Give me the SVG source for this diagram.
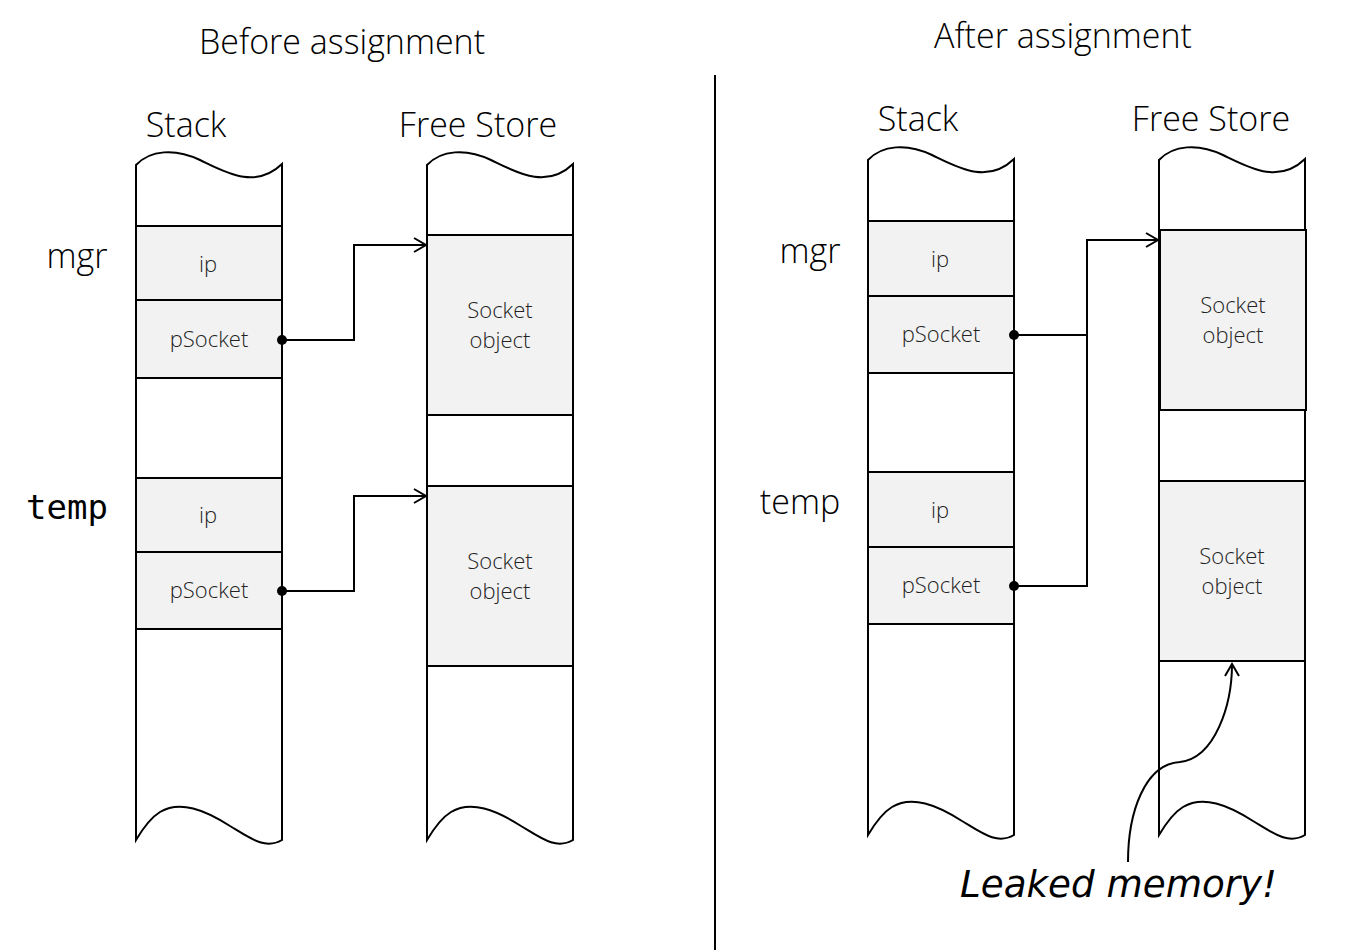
<svg xmlns="http://www.w3.org/2000/svg" width="1353" height="950" viewBox="0 0 1353 950">
<style>
.col{fill:#fff;stroke:#000;stroke-width:2}
.cell{fill:#f2f2f2;stroke:#000;stroke-width:2}
.t{font-family:"Open Sans","Noto Sans",sans-serif;font-weight:300;fill:#000;text-anchor:middle}
.h{font-size:34px}
.c{font-size:22px;fill:#222}
.lbl{font-size:34px}
.con{fill:none;stroke:#000;stroke-width:2}
</style>
<defs>
<marker id="arr" markerWidth="16" markerHeight="16" refX="14" refY="8" orient="auto" markerUnits="userSpaceOnUse">
<path d="M2,1 L14,8 L2,15" fill="none" stroke="#000" stroke-width="2"/>
</marker>
</defs>
<rect width="1353" height="950" fill="#fff"/>
<text class="t h" x="342" y="54">Before assignment</text>
<text class="t h" x="1063" y="48">After assignment</text>
<line x1="715" y1="75" x2="715" y2="950" stroke="#000" stroke-width="2"/>

<g id="left-stack">
<text class="t h" x="186" y="137">Stack</text>
<path class="col" d="M136,165 C150,150 175,148 200,160 C225,172 255,190 282,164 L282,840 C265,850 250,838 230,826 C205,810 180,800 160,812 C150,818 142,830 136,840 Z"/>
<rect class="cell" x="136" y="226" width="146" height="74"/>
<rect class="cell" x="136" y="300" width="146" height="78"/>
<rect class="cell" x="136" y="478" width="146" height="74"/>
<rect class="cell" x="136" y="552" width="146" height="77"/>
<text class="t c" x="208" y="272">ip</text>
<text class="t c" x="209" y="347">pSocket</text>
<text class="t c" x="208" y="523">ip</text>
<text class="t c" x="209" y="598">pSocket</text>
<text class="t lbl" x="77" y="268">mgr</text>
<text x="67" y="519" style="font-family:'DejaVu Sans Mono','Liberation Mono',monospace;font-size:34px;text-anchor:middle">temp</text>
</g>

<g id="left-freestore">
<text class="t h" x="478" y="137">Free Store</text>
<path class="col" d="M427,165 C441,150 466,148 491,160 C516,172 546,190 573,164 L573,840 C556,850 541,838 521,826 C496,810 471,800 451,812 C441,818 433,830 427,840 Z"/>
<rect class="cell" x="427" y="235" width="146" height="180"/>
<rect class="cell" x="427" y="486" width="146" height="180"/>
<text class="t c" x="500" y="318">Socket</text>
<text class="t c" x="500" y="348">object</text>
<text class="t c" x="500" y="569">Socket</text>
<text class="t c" x="500" y="599">object</text>
</g>

<g id="right-stack">
<text class="t h" x="918" y="131">Stack</text>
<path class="col" d="M868,160 C882,145 907,143 932,155 C957,167 987,185 1014,159 L1014,835 C997,845 982,833 962,821 C937,805 912,795 892,807 C882,813 874,825 868,835 Z"/>
<rect class="cell" x="868" y="221" width="146" height="75"/>
<rect class="cell" x="868" y="296" width="146" height="77"/>
<rect class="cell" x="868" y="472" width="146" height="75"/>
<rect class="cell" x="868" y="547" width="146" height="77"/>
<text class="t c" x="940" y="267">ip</text>
<text class="t c" x="941" y="342">pSocket</text>
<text class="t c" x="940" y="518">ip</text>
<text class="t c" x="941" y="593">pSocket</text>
<text class="t lbl" x="810" y="263">mgr</text>
<text class="t lbl" x="800" y="514">temp</text>
</g>

<g id="right-freestore">
<text class="t h" x="1211" y="131">Free Store</text>
<path class="col" d="M1159,160 C1173,145 1198,143 1223,155 C1248,167 1278,185 1305,159 L1305,835 C1288,845 1273,833 1253,821 C1228,805 1203,795 1183,807 C1173,813 1165,825 1159,835 Z"/>
<rect class="cell" x="1160" y="230" width="146" height="180"/>
<rect class="cell" x="1159" y="481" width="146" height="180"/>
<text class="t c" x="1233" y="313">Socket</text>
<text class="t c" x="1233" y="343">object</text>
<text class="t c" x="1232" y="564">Socket</text>
<text class="t c" x="1232" y="594">object</text>
</g>

<g id="connectors">
<circle cx="282" cy="340" r="5"/>
<polyline class="con" points="282,340 354,340 354,245 426,245" marker-end="url(#arr)"/>
<circle cx="282" cy="591" r="5"/>
<polyline class="con" points="282,591 354,591 354,496 426,496" marker-end="url(#arr)"/>
<circle cx="1014" cy="335" r="5"/>
<polyline class="con" points="1014,335 1087,335"/>
<circle cx="1014" cy="586" r="5"/>
<polyline class="con" points="1014,586 1087,586 1087,240 1158,240" marker-end="url(#arr)"/>
<path class="con" d="M1128,862 C1128,812 1145,764 1180,762 C1215,758 1232,705 1232,664" marker-end="url(#arr)"/>
</g>

<g id="leaked-label">
<text x="960" y="897" style="font-family:'DejaVu Sans','Liberation Sans',sans-serif;font-style:italic;font-size:38px" textLength="317" lengthAdjust="spacingAndGlyphs">Leaked memory!</text>
</g>
</svg>
